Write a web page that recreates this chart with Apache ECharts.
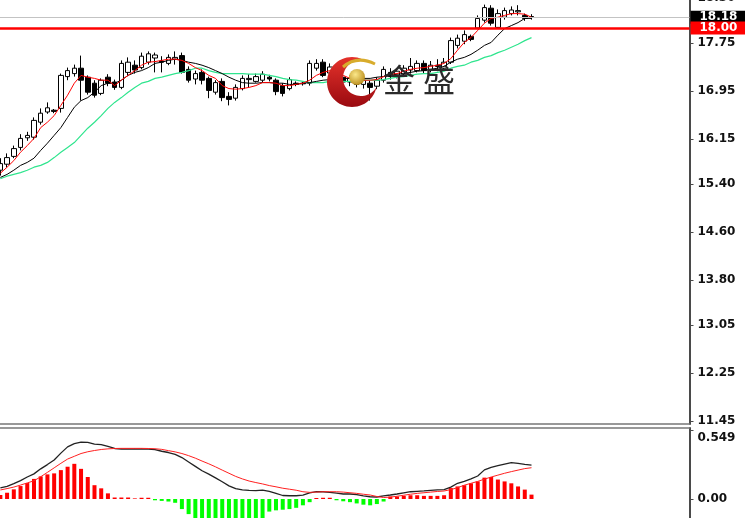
<!DOCTYPE html>
<html><head><meta charset="utf-8">
<script src="https://cdn.jsdelivr.net/npm/echarts@6/dist/echarts.min.js"></script>
<style>html,body{margin:0;padding:0;background:#fff;overflow:hidden;width:745px;height:518px}
#c{position:absolute;left:-3px;top:-12px;width:748px;height:530px}</style>
</head><body><div id="c"></div>
<script>
// [open, close, low, high]
const ohlc = [
[15.63,15.74,15.54,15.83],[15.73,15.84,15.68,15.91],[15.86,15.99,15.83,16.04],[16.01,16.16,15.96,16.23],
[16.17,16.21,16.12,16.27],[16.18,16.46,16.14,16.51],[16.43,16.58,16.39,16.66],[16.60,16.67,16.57,16.76],
[16.63,16.61,16.58,16.65],[16.66,17.21,16.59,17.24],[17.19,17.29,17.13,17.34],[17.24,17.33,17.19,17.39],
[17.33,17.13,16.79,17.54],[17.18,16.93,16.89,17.21],[17.08,16.88,16.84,17.13],[16.91,17.13,16.88,17.16],
[17.18,17.08,17.03,17.23],[17.10,17.01,16.97,17.14],[17.01,17.41,16.98,17.46],[17.26,17.43,17.21,17.51],
[17.38,17.30,17.24,17.46],[17.34,17.53,17.31,17.59],[17.43,17.57,17.39,17.61],[17.50,17.55,17.26,17.59],
[17.45,17.43,17.26,17.53],[17.41,17.51,17.38,17.56],[17.48,17.51,17.39,17.61],[17.54,17.26,17.24,17.59],
[17.31,17.13,17.09,17.36],[17.15,17.24,17.06,17.29],[17.26,17.13,17.06,17.31],[17.16,16.96,16.83,17.19],
[16.93,17.09,16.89,17.13],[17.11,16.84,16.78,17.16],[16.86,16.81,16.71,16.93],[16.83,17.01,16.79,17.06],
[16.99,17.16,16.96,17.21],[17.14,17.16,17.01,17.23],[17.11,17.19,17.09,17.24],[17.13,17.23,17.09,17.28],
[17.18,17.15,17.11,17.22],[17.13,16.94,16.88,17.16],[17.04,16.91,16.86,17.08],[16.99,17.14,16.96,17.18],
[17.08,17.06,17.03,17.11],[17.07,17.08,17.04,17.10],[17.08,17.41,17.04,17.46],[17.33,17.41,17.29,17.48],
[17.43,17.21,17.18,17.48],[17.25,17.35,17.21,17.41],[17.30,17.18,17.13,17.36],[17.18,17.10,17.03,17.23],
[17.10,17.16,17.03,17.21],[17.15,17.06,17.01,17.20],[17.06,17.13,16.99,17.18],[17.08,17.01,16.79,17.13],
[17.03,17.13,16.98,17.18],[17.13,17.31,17.09,17.36],[17.26,17.19,17.14,17.33],[17.21,17.28,17.16,17.33],
[17.23,17.33,17.19,17.38],[17.30,17.36,17.24,17.50],[17.29,17.41,17.26,17.46],[17.41,17.29,17.24,17.46],
[17.31,17.38,17.26,17.45],[17.38,17.36,17.28,17.48],[17.33,17.43,17.28,17.50],[17.43,17.79,17.40,17.84],
[17.71,17.83,17.66,17.89],[17.78,17.89,17.73,17.96],[17.86,17.81,17.78,17.89],[18.00,18.16,17.98,18.21],
[18.13,18.34,18.09,18.39],[18.33,18.08,18.04,18.38],[18.01,18.24,17.99,18.31],[18.18,18.29,18.14,18.34],
[18.24,18.30,18.21,18.36],[18.27,18.29,18.21,18.38],[18.21,18.16,18.12,18.24],[18.19,18.18,18.14,18.23]
];
const maRed = [15.58,15.68,15.79,15.93,16.04,16.16,16.34,16.43,16.54,16.71,
16.88,17.08,17.21,17.18,17.16,17.13,17.13,17.04,17.13,17.21,
17.29,17.38,17.43,17.44,17.46,17.48,17.48,17.46,17.41,17.34,
17.29,17.21,17.16,17.04,16.99,16.98,16.99,17.01,17.04,17.09,
17.09,17.08,17.04,17.04,17.06,17.08,17.13,17.21,17.26,17.29,
17.26,17.21,17.16,17.13,17.13,17.13,17.14,17.19,17.23,17.24,
17.28,17.31,17.33,17.34,17.36,17.38,17.41,17.49,17.63,17.76,
17.84,17.96,18.08,18.16,18.18,18.21,18.24,18.24,18.23,18.18];
const maBlack = [15.51,15.56,15.63,15.71,15.76,15.83,15.96,16.08,16.21,16.34,
16.51,16.68,16.79,16.84,16.93,17.04,17.08,17.08,17.13,17.21,
17.26,17.29,17.34,17.41,17.43,17.46,17.48,17.46,17.43,17.41,
17.38,17.34,17.29,17.24,17.18,17.13,17.09,17.08,17.08,17.09,
17.09,17.08,17.08,17.06,17.06,17.08,17.09,17.11,17.13,17.14,
17.16,17.16,17.16,17.16,17.16,17.16,17.18,17.19,17.21,17.23,
17.24,17.26,17.28,17.29,17.31,17.33,17.36,17.43,17.48,17.51,
17.56,17.63,17.71,17.76,17.88,17.99,18.04,18.09,18.16,18.16];
const maGreen = [15.49,15.53,15.56,15.59,15.63,15.68,15.71,15.76,15.84,15.93,
16.01,16.09,16.21,16.33,16.43,16.54,16.66,16.76,16.84,16.93,
17.01,17.08,17.11,17.16,17.18,17.21,17.24,17.26,17.29,17.33,
17.33,17.29,17.26,17.24,17.24,17.24,17.24,17.23,17.23,17.23,
17.21,17.19,17.16,17.14,17.13,17.11,17.09,17.09,17.09,17.11,
17.11,17.11,17.11,17.11,17.13,17.13,17.13,17.14,17.16,17.18,
17.19,17.21,17.23,17.24,17.24,17.26,17.28,17.33,17.36,17.38,
17.43,17.46,17.51,17.54,17.59,17.63,17.68,17.73,17.79,17.84];
const macdLine = [0.088,0.100,0.122,0.146,0.175,0.200,0.240,0.274,0.310,0.365,
0.415,0.440,0.452,0.451,0.437,0.432,0.418,0.402,0.398,0.398,
0.398,0.398,0.397,0.393,0.380,0.370,0.355,0.330,0.295,0.260,
0.225,0.198,0.168,0.137,0.105,0.082,0.073,0.068,0.066,0.071,
0.060,0.045,0.028,0.026,0.026,0.031,0.048,0.058,0.058,0.053,
0.047,0.040,0.040,0.035,0.025,0.018,0.016,0.025,0.032,0.040,
0.049,0.058,0.061,0.064,0.068,0.072,0.075,0.095,0.125,0.140,
0.160,0.183,0.232,0.252,0.265,0.278,0.289,0.283,0.276,0.270];
const signalLine = [0.072,0.083,0.095,0.111,0.128,0.145,0.177,0.212,0.248,0.284,
0.318,0.340,0.362,0.376,0.386,0.394,0.399,0.402,0.403,0.403,
0.403,0.403,0.402,0.400,0.395,0.385,0.375,0.362,0.345,0.325,
0.302,0.280,0.256,0.230,0.205,0.180,0.160,0.143,0.131,0.120,
0.107,0.097,0.086,0.078,0.070,0.058,0.053,0.055,0.058,0.058,
0.058,0.055,0.050,0.045,0.038,0.032,0.020,0.012,0.015,0.022,
0.030,0.038,0.045,0.050,0.055,0.060,0.064,0.075,0.090,0.110,
0.125,0.140,0.158,0.175,0.190,0.205,0.218,0.230,0.242,0.249];
const histogram = [0.032,0.05,0.077,0.103,0.127,0.16,0.18,0.196,0.204,0.23,0.257,0.28,0.24,0.175,0.11,0.085,0.045,
0.012,0.012,0.012,0.005,0.01,0.01,
-0.01,-0.015,-0.02,-0.03,-0.08,-0.12,
-0.17,-0.18,-0.19,-0.2,-0.2,-0.2,-0.19,-0.19,-0.18,-0.17,-0.16,
-0.1,-0.09,-0.085,-0.08,-0.07,-0.05,-0.025,
0.008,0.01,0.01,
-0.01,-0.018,-0.025,-0.035,-0.045,-0.05,-0.04,-0.02,
0.02,0.02,0.025,0.03,0.03,0.025,0.025,0.025,0.03,
0.087,0.1,0.11,0.125,0.14,0.17,0.175,0.155,0.14,0.125,0.1,0.075,0.035];
const priceTicks = [11.45,12.25,13.05,13.80,14.60,15.40,16.15,16.95,17.75,18.50];
const macdTicks = [0, 0.549];
const bidPrice = 18.18;
const levelPrice = 18.00;
const categories = ohlc.map((d, i) => 'Bar ' + (i + 1));

// the chart canvas is offset by (-3, -12) in the page; logo coordinates below are in canvas space
const OX = 3, OY = 12;
function crescentPoints() {
  const pts = [];
  const c1 = [352 + OX, 82 + OY], r1 = 25, c2 = [361 + OX, 78 + OY], r2 = 18;
  for (let a = -60; a >= -347.7; a -= 6) {
    const t = a * Math.PI / 180; pts.push([c1[0] + r1 * Math.cos(t), c1[1] + r1 * Math.sin(t)]);
  }
  for (let a = 31; a <= 281; a += 6) {
    const t = a * Math.PI / 180; pts.push([c2[0] + r2 * Math.cos(t), c2[1] + r2 * Math.sin(t)]);
  }
  return pts;
}

const chart = echarts.init(document.getElementById('c'), null, {renderer: 'canvas'});
const axisFont = {color: '#111', fontSize: 12, fontWeight: 'bold', fontFamily: 'DejaVu Sans'};
const frameColor = '#4a4a4a';
const xCommon = {
  type: 'category', data: categories, max: 102, boundaryGap: true,
  axisTick: {show: false}, axisLabel: {show: false}, splitLine: {show: false}
};
const redGrad = {type: 'linear', x: 0, y: 0, x2: 0, y2: 1, colorStops: [{offset: 0, color: '#e5322b'}, {offset: 1, color: '#9a0a10'}]};
const goldGrad = {type: 'radial', x: 0.4, y: 0.35, r: 0.7, colorStops: [{offset: 0, color: '#fbe88a'}, {offset: 1, color: '#b88a18'}]};
const option = {
  animation: false,
  backgroundColor: '#ffffff',
  grid: [
    {left: 0, right: 55.5, top: 0, bottom: 94},
    {left: 0, right: 55.5, top: 440, bottom: 0}
  ],
  xAxis: [
    Object.assign({}, xCommon, {gridIndex: 0, axisLine: {show: true, onZero: false, lineStyle: {color: '#777', width: 1.5}}}),
    Object.assign({}, xCommon, {gridIndex: 1, position: 'top', axisLine: {show: true, onZero: false, lineStyle: {color: '#777', width: 1.5}}})
  ],
  yAxis: [
    {
      type: 'value', gridIndex: 0, position: 'right', min: 11.4, max: 18.6667,
      axisLine: {show: true, lineStyle: {color: frameColor, width: 2}},
      axisTick: {show: true, customValues: priceTicks, length: 4, lineStyle: {color: frameColor, width: 1}},
      axisLabel: Object.assign({customValues: priceTicks, margin: 8, formatter: v => Number(v).toFixed(2)}, axisFont),
      splitLine: {show: false}
    },
    {
      type: 'value', gridIndex: 1, position: 'right', min: -0.151, max: 0.565,
      axisLine: {show: true, lineStyle: {color: frameColor, width: 2}},
      axisTick: {show: true, customValues: macdTicks, length: 4, lineStyle: {color: frameColor, width: 1}},
      axisLabel: Object.assign({
        customValues: macdTicks, margin: 8,
        formatter: v => Number(v) === 0 ? '0.00' : '{t|' + Number(v).toFixed(3) + '}',
        rich: {t: {padding: [16, 0, 0, 0], color: '#111', fontSize: 12, fontWeight: 'bold', fontFamily: 'DejaVu Sans'}}
      }, axisFont),
      splitLine: {show: false}
    }
  ],
  series: [
    {
      type: 'candlestick', xAxisIndex: 0, yAxisIndex: 0, data: ohlc, barWidth: 5, z: 2,
      itemStyle: {color: '#ffffff', color0: '#000000', borderColor: '#000000', borderColor0: '#000000', borderWidth: 1},
      markLine: {
        silent: true, symbol: ['none', 'none'], animation: false,
        data: [
          {yAxis: bidPrice, lineStyle: {color: '#c3c3c3', width: 1, type: 'solid'},
           label: {show: true, position: 'end', distance: 1, formatter: bidPrice.toFixed(2), backgroundColor: '#000', color: '#fff',
                   padding: [1, 9, 0, 9], lineHeight: 12, fontSize: 12, fontWeight: 'bold', fontFamily: 'DejaVu Sans'}},
          {yAxis: levelPrice, lineStyle: {color: '#ff0000', width: 2.5, type: 'solid'},
           label: {show: true, position: 'end', distance: 1, formatter: levelPrice.toFixed(2), backgroundColor: '#ff0000', color: '#fff',
                   padding: [1, 9, 0, 9], lineHeight: 12, fontSize: 12, fontWeight: 'bold', fontFamily: 'DejaVu Sans'}}
        ]
      }
    },
    {type: 'line', xAxisIndex: 0, yAxisIndex: 0, data: maGreen, symbol: 'none', z: 3, lineStyle: {color: '#2fe58e', width: 1.2}},
    {type: 'line', xAxisIndex: 0, yAxisIndex: 0, data: maBlack, symbol: 'none', z: 3, lineStyle: {color: '#000000', width: 1}},
    {type: 'line', xAxisIndex: 0, yAxisIndex: 0, data: maRed, symbol: 'none', z: 3, lineStyle: {color: '#ff0000', width: 1}},
    {type: 'bar', xAxisIndex: 1, yAxisIndex: 1, data: histogram, barWidth: 4, z: 2,
     itemStyle: {color: p => p.value >= 0 ? '#ff0000' : '#00ff00'}},
    {type: 'line', xAxisIndex: 1, yAxisIndex: 1, data: macdLine, symbol: 'none', z: 3, lineStyle: {color: '#222222', width: 1.3}},
    {type: 'line', xAxisIndex: 1, yAxisIndex: 1, data: signalLine, symbol: 'none', z: 3, lineStyle: {color: '#ff2020', width: 1}}
  ],
  graphic: [
    {type: 'polygon', z: 100, shape: {points: crescentPoints()}, style: {fill: redGrad}},
    {type: 'bezierCurve', z: 101, shape: {x1: 343 + OX, y1: 67 + OY, x2: 375 + OX, y2: 64 + OY, cpx1: 357 + OX, cpy1: 55 + OY}, style: {fill: 'none', stroke: '#d8ac2c', lineWidth: 3}},
    {type: 'circle', z: 101, shape: {cx: 357 + OX, cy: 77 + OY, r: 8}, style: {fill: goldGrad}},
    {type: 'text', z: 101, x: 399 + OX, y: 80 + OY, style: {text: '金', fill: '#2a2a2a', fontSize: 32, fontFamily: 'Noto Sans CJK SC', align: 'center', verticalAlign: 'middle'}},
    {type: 'text', z: 101, x: 439 + OX, y: 80 + OY, style: {text: '盛', fill: '#2a2a2a', fontSize: 32, fontFamily: 'Noto Sans CJK SC', align: 'center', verticalAlign: 'middle'}}
  ]
};
chart.setOption(option);
</script></body></html>
